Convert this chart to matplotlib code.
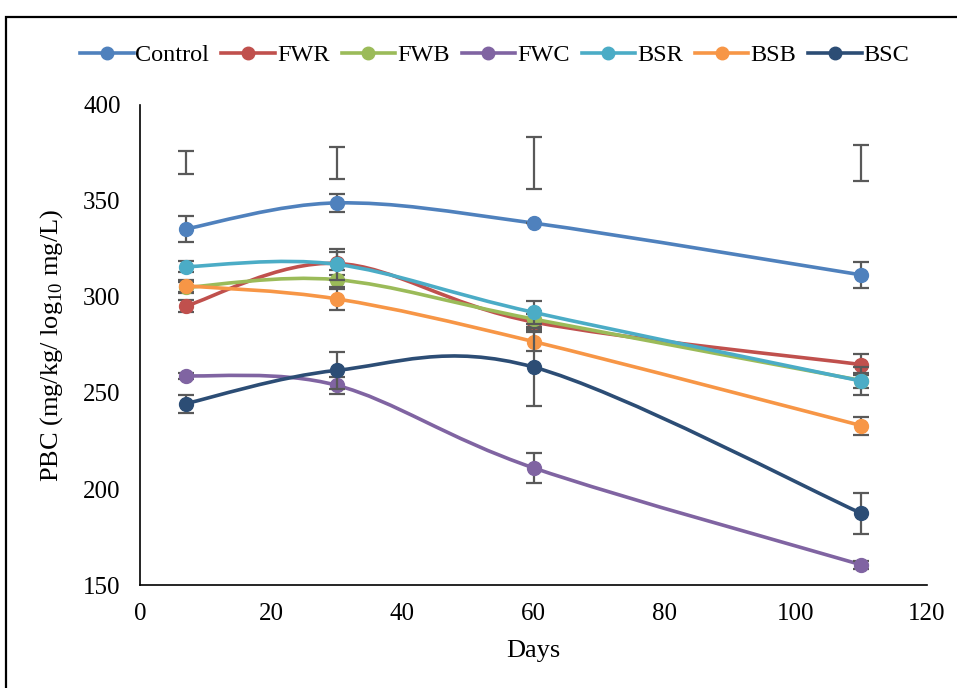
import numpy as np
import matplotlib
matplotlib.use('Agg')
import matplotlib.pyplot as plt
from matplotlib.path import Path
from matplotlib.patches import PathPatch, Rectangle

# === Data === #

days = [7, 30, 60, 110]

series = {
    'Control': [335.5, 349.0, 338.5, 311.5],
    'FWR': [295.3, 317.5, 287.0, 264.8],
    'FWB': [305.0, 309.0, 288.5, 256.5],
    'FWC': [259.0, 254.0, 211.0, 160.5],
    'BSR': [315.8, 317.0, 292.0, 256.2],
    'BSB': [305.8, 299.0, 276.8, 233.0],
    'BSC': [244.5, 261.8, 263.5, 187.3],
}

errors = {
    'Control': [6.7, 4.6, 0.0, 6.8],
    'FWR': [3.0, 6.0, 4.0, 5.5],
    'FWB': [3.0, 5.0, 4.0, 4.0],
    'FWC': [1.5, 4.5, 8.0, 2.0],
    'BSR': [3.0, 8.0, 6.0, 7.5],
    'BSB': [3.0, 6.0, 5.0, 4.7],
    'BSC': [4.7, 9.5, 20.5, 10.7],
}

# error bars of a series whose line and markers are not shown
ghost_mean = [370.0, 369.7, 369.8, 369.7]
ghost_err = [6.0, 8.5, 13.5, 9.3]

colors = {
    'Control': '#4F81BD',
    'FWR': '#C0504D',
    'FWB': '#9BBB59',
    'FWC': '#8064A2',
    'BSR': '#4BACC6',
    'BSB': '#F79646',
    'BSC': '#2C4D75',
}


def smooth_path(xs, ys):
    '''Excel-style smoothed line: Catmull-Rom segments as cubic Beziers'''
    pts = np.column_stack([xs, ys]).astype(float)
    n = len(pts)
    verts = [pts[0]]
    codes = [Path.MOVETO]
    for i in range(n - 1):
        p0 = pts[max(i - 1, 0)]
        p1 = pts[i]
        p2 = pts[i + 1]
        p3 = pts[min(i + 2, n - 1)]
        c1 = p1 + (p2 - p0) / 6.0
        c2 = p2 - (p3 - p1) / 6.0
        verts += [c1, c2, p2]
        codes += [Path.CURVE4] * 3
    return Path(verts, codes)


plt.rcParams['font.family'] = ['Liberation Serif', 'DejaVu Serif']
plt.rcParams['mathtext.fontset'] = 'custom'
plt.rcParams['mathtext.rm'] = 'Liberation Serif'

fig = plt.figure(figsize=(9.57, 6.88), dpi=100)
ax = fig.add_axes([0.1463, 0.1497, 0.8224, 0.6977])

err_color = '#595959'

ax.errorbar(days, ghost_mean, yerr=ghost_err, fmt='none', ecolor=err_color,
            elinewidth=1.6, capsize=6, capthick=1.6, zorder=2)

handles = []
for k, name in enumerate(series):
    c = colors[name]
    ax.add_patch(PathPatch(smooth_path(days, series[name]), facecolor='none',
                           edgecolor=c, lw=2.6, zorder=3 + 2 * k,
                           capstyle='round'))
    ax.errorbar(days, series[name], yerr=errors[name], fmt='none',
                ecolor=err_color, elinewidth=1.6, capsize=6, capthick=1.6,
                zorder=3 + 2 * k)
    ax.plot(days, series[name], 'o', color=c, markersize=10,
            zorder=4 + 2 * k)
    handles.append(plt.Line2D([], [], color=c, lw=2.6, marker='o',
                              markersize=9))

ax.set_xlim(0, 120)
ax.set_ylim(150, 400)
ax.set_xticks(range(0, 121, 20))
ax.set_yticks(range(150, 401, 50))
ax.tick_params(length=0, labelsize=18)
ax.tick_params(axis='y', pad=14)
ax.tick_params(axis='x', pad=13)
ax.spines['top'].set_visible(False)
ax.spines['right'].set_visible(False)
ax.spines['left'].set_linewidth(1.2)
ax.spines['bottom'].set_linewidth(1.2)

ax.set_xlabel('Days', fontsize=19, labelpad=11)
ax.set_ylabel('PBC (mg/kg/ log$_{\\mathregular{10}}$ mg/L)', fontsize=19,
              labelpad=13)

fig.legend(handles, list(series.keys()), loc='center', ncol=7,
           bbox_to_anchor=(0.517, 0.92), frameon=False, fontsize=17.5,
           handlelength=2.2, handletextpad=0.08, columnspacing=0.5)

# outer frame, cut off at the right and bottom edges
fig.patches.append(Rectangle((6 / 957, -0.1), 1.2, 1.1 - 17 / 688,
                             transform=fig.transFigure, fill=False,
                             edgecolor='black', lw=1.6))

fig.savefig('out.png', dpi=100)
